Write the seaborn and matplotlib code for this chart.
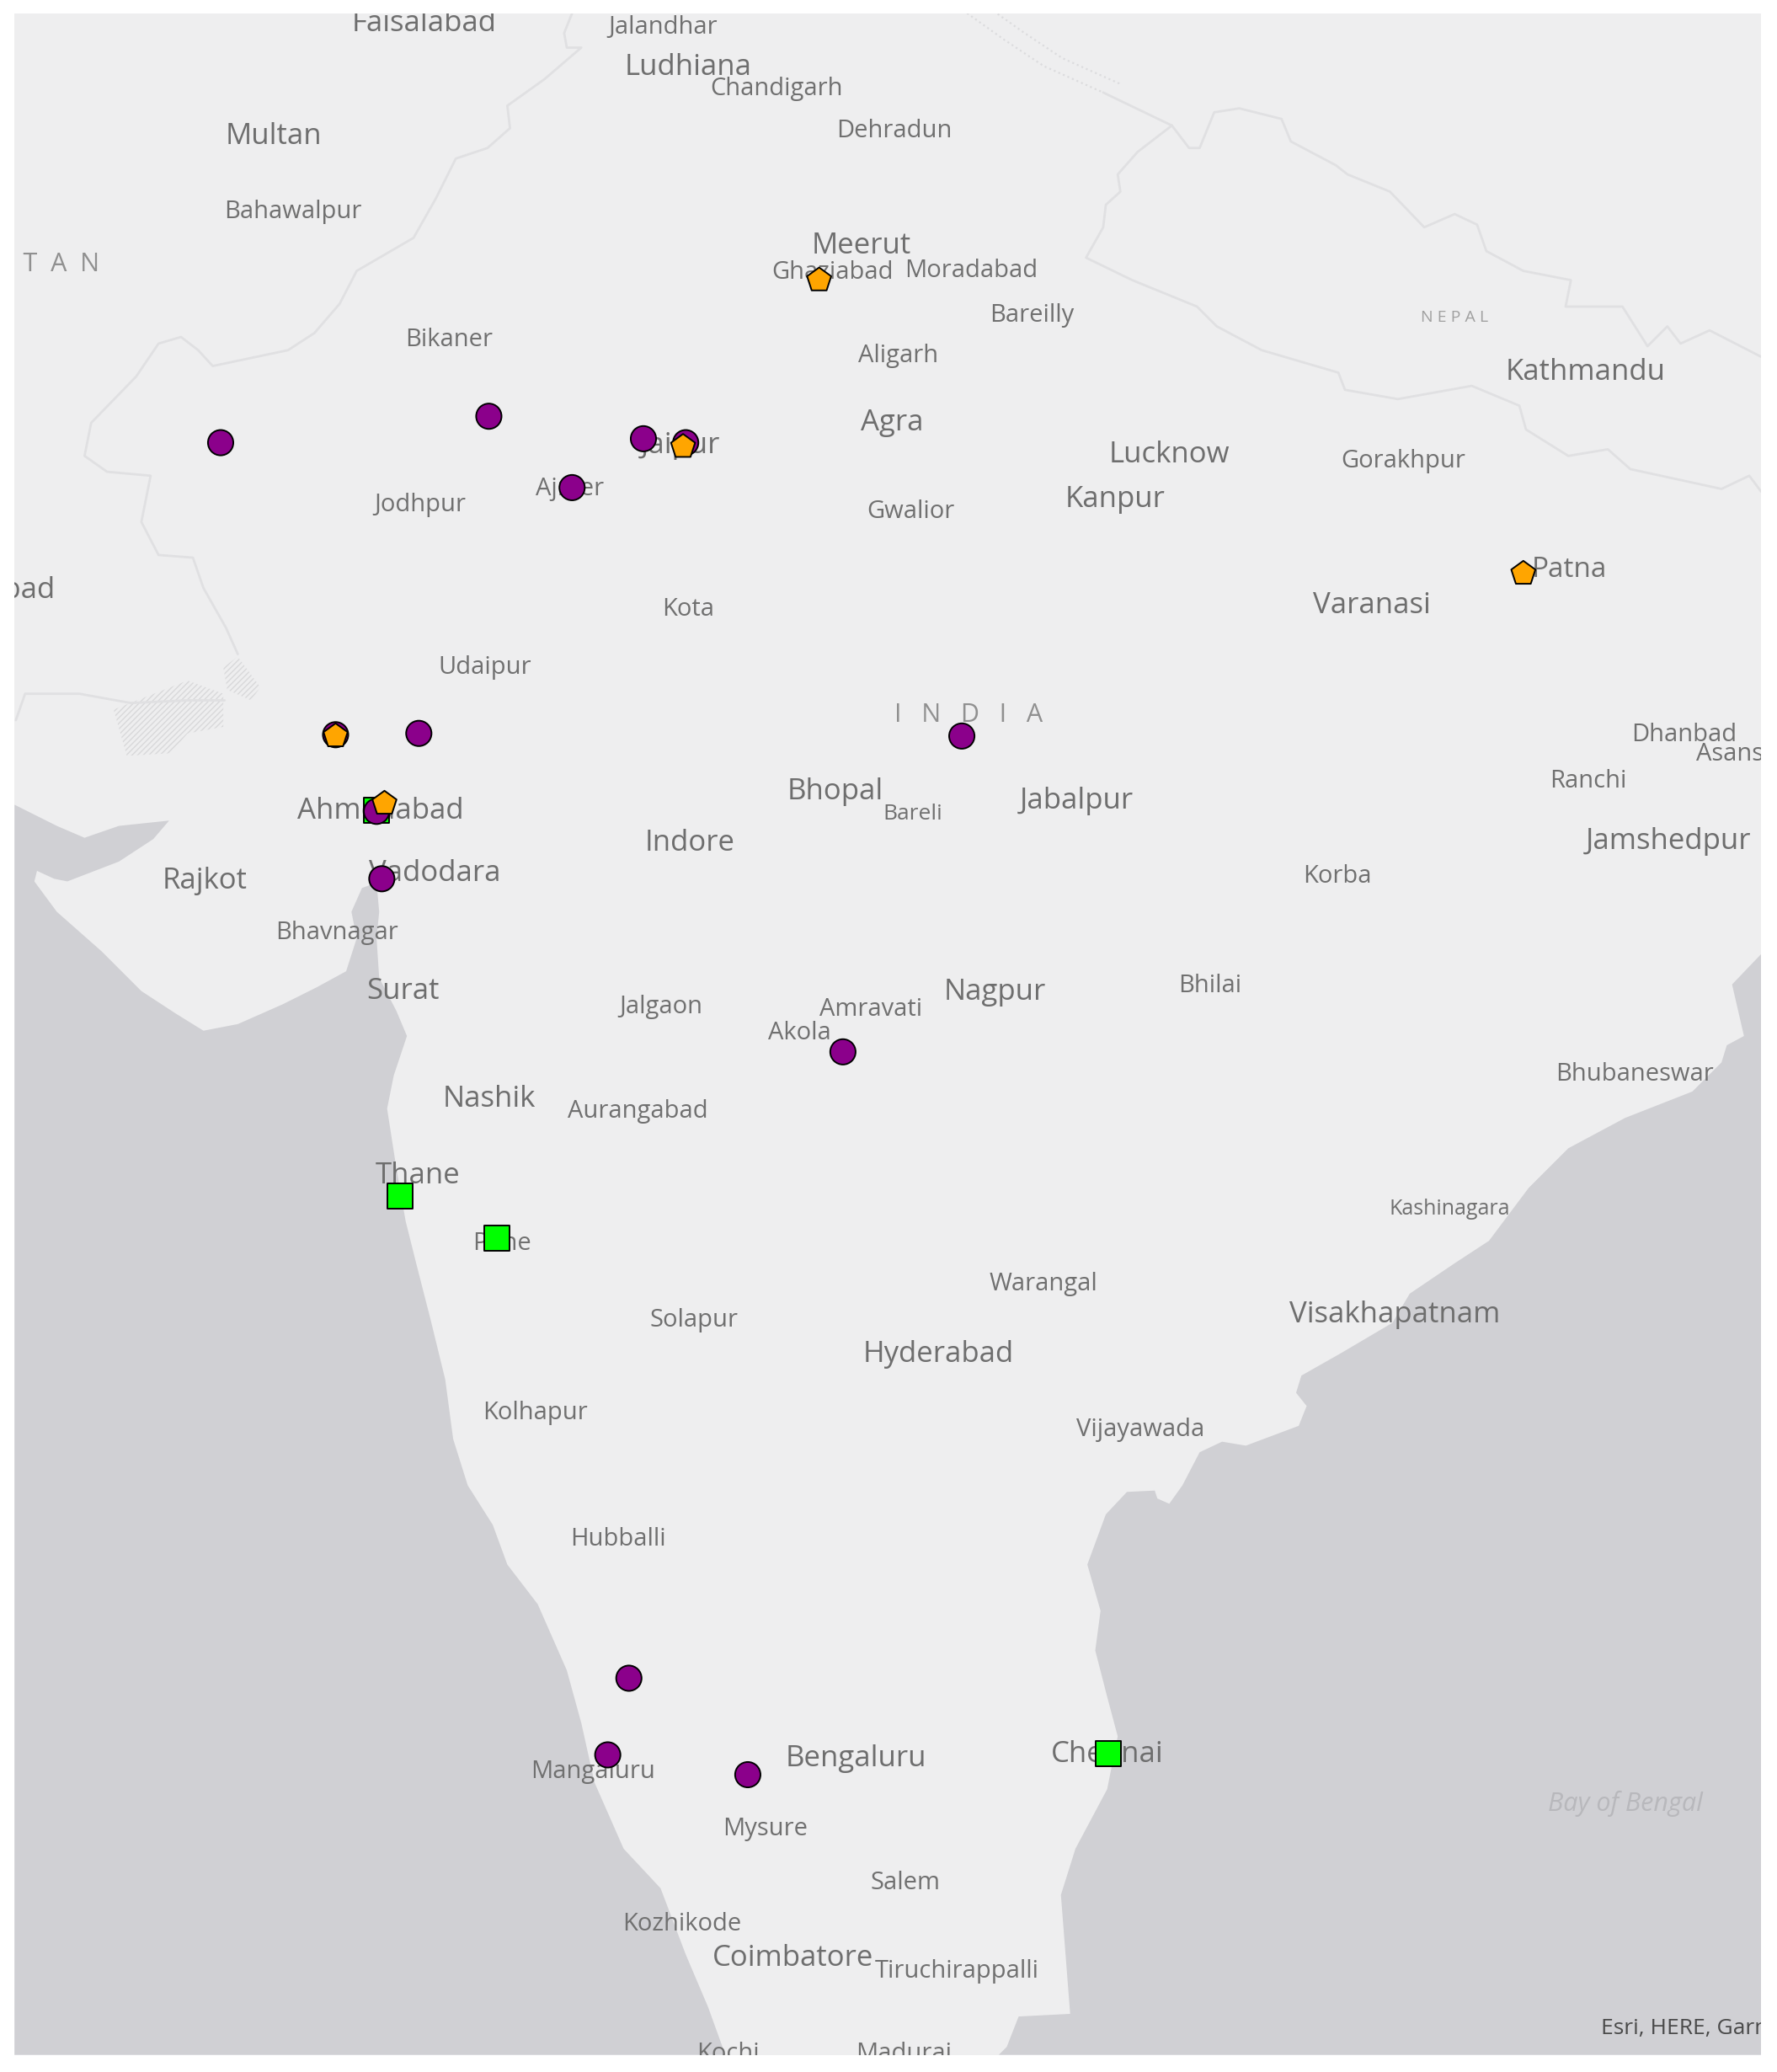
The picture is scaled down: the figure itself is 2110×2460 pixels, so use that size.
import pandas as pd
import seaborn as sns
import matplotlib.pyplot as plt

sns.set_theme(style='white')
plt.rcParams['font.family'] = ['Open Sans', 'DejaVu Sans']

purple_x = [167, 370, 487, 519, 433, 254, 317, 285, 289, 728, 638, 476, 460, 566]
purple_y = [335, 315, 332, 335, 369, 556, 555, 614, 665, 557, 796, 1270, 1328, 1343]
orange_x = [620, 517, 254, 291, 1153]
orange_y = [212, 338, 557, 608, 434]
green_x = [285, 303, 376, 839]
green_y = [613, 905, 937, 1327]

west_sea_x = [11, 43, 64, 90, 128, 116, 90, 51, 41, 28, 26, 43, 77, 107, 133, 154, 180, 214, 240, 262, 270, 266, 274, 285,
              287, 285, 287, 300, 308, 298, 293, 300, 307, 315, 326, 337, 343, 354, 373, 384, 407, 429, 440, 450, 472, 500,
              519, 536, 549, 11]
west_sea_y = [609, 625, 634, 625, 621, 635, 652, 667, 665, 659, 667, 690, 720, 750, 767, 780, 775, 760, 747, 735, 710, 690, 672, 668,
              690, 710, 740, 765, 784, 814, 839, 884, 924, 956, 999, 1044, 1089, 1124, 1154, 1184, 1214, 1264, 1304, 1349, 1399, 1429,
              1479, 1519, 1555, 1555]
east_sea_x = [1333, 1311, 1320, 1307, 1303, 1281, 1230, 1187, 1157, 1127, 1101, 1067, 1054, 1015, 985, 981, 989, 983, 943, 925,
              908, 895, 885, 876, 874, 853, 837, 823, 833, 829, 838, 846, 838, 814, 803, 810, 771, 762, 756, 1333]
east_sea_y = [722, 745, 784, 791, 804, 826, 846, 869, 899, 939, 956, 979, 1001, 1024, 1041, 1054, 1064, 1079, 1094, 1091,
              1099, 1124, 1138, 1134, 1128, 1129, 1146, 1184, 1219, 1249, 1284, 1314, 1354, 1399, 1434, 1524, 1526, 1549, 1555, 1555]

pak_border_x = [433, 427, 429, 440, 412, 384, 386, 369, 345, 330, 313, 270, 257, 238, 218, 161, 150, 137, 120, 103, 69, 64, 81,
                114, 107, 120, 146, 154, 171, 180]
pak_border_y = [10, 25, 36, 36, 60, 80, 97, 112, 120, 150, 180, 205, 230, 252, 265, 277, 265, 255, 260, 285, 320, 345, 357,
                360, 395, 420, 422, 445, 475, 495]
kutch_border_x = [170, 142, 99, 60, 19, 12]
kutch_border_y = [530, 530, 532, 525, 525, 545]
nepal_top_x = [887, 900, 908, 919, 938, 970, 977, 1011, 1020, 1052, 1078, 1101, 1118, 1125, 1153, 1189, 1185, 1228, 1247, 1262,
               1272, 1294, 1333]
nepal_top_y = [95, 112, 112, 85, 82, 90, 107, 125, 132, 145, 172, 162, 170, 190, 205, 212, 232, 232, 262, 247, 260, 250, 270]
nepal_low_x = [887, 861, 846, 848, 837, 835, 822, 857, 906, 921, 955, 1013, 1018, 1058, 1114, 1150, 1155, 1187, 1217, 1234, 1303,
               1324, 1333]
nepal_low_y = [95, 115, 132, 145, 155, 172, 195, 212, 232, 247, 265, 282, 295, 302, 292, 307, 325, 345, 340, 355, 370, 360, 372]
nepal_dots_x = [732, 760, 790, 835]
nepal_dots_y = [10, 30, 50, 70]
nepal_link_x = [835, 887]
nepal_link_y = [70, 95]
rann_x = [86, 142, 169, 169, 142, 129, 96]
rann_y = [537, 515, 525, 550, 555, 570, 572]
rann2_x = [169, 180, 197, 190, 172]
rann2_y = [505, 497, 520, 530, 522]

big_names = ['Faisalabad', 'Ludhiana', 'Multan', 'Meerut', 'Kathmandu', 'Agra', 'Jaipur', 'Lucknow', 'Kanpur', 'Varanasi',
             'Bhopal', 'Jabalpur', 'Ahmedabad', 'Jamshedpur', 'Indore', 'Vadodara', 'Rajkot', 'Surat', 'Nagpur', 'Nashik',
             'Thane', 'Visakhapatnam', 'Hyderabad', 'Chennai', 'Bengaluru', 'Coimbatore']
big_x = [321, 521, 207, 652, 1200, 675, 515, 885, 844, 1038, 632, 815, 288, 1263, 522, 329, 155, 305, 753, 370, 316, 1056, 710,
         838, 648, 600]
big_y = [16, 49, 101, 184, 280, 318, 335, 342, 376, 456, 597, 604, 612, 635, 636, 659, 665, 748, 749, 830, 888, 993, 1023, 1326,
         1329, 1480]
small_names = ['Jalandhar', 'Chandigarh', 'Dehradun', 'Bahawalpur', 'Ghaziabad', 'Moradabad', 'Bareilly', 'Bikaner', 'Aligarh',
               'Gorakhpur', 'Ajmer', 'Jodhpur', 'Gwalior', 'Patna', 'Kota', 'Udaipur', 'Dhanbad', 'Ranchi', 'Bareli', 'Korba',
               'Bhavnagar', 'Bhilai', 'Jalgaon', 'Amravati', 'Akola', 'Bhubaneswar', 'Aurangabad', 'Kashinagara', 'Pune',
               'Warangal', 'Solapur', 'Kolhapur', 'Vijayawada', 'Hubballi', 'Mangaluru', 'Mysure', 'Salem', 'Kozhikode',
               'Tiruchirappalli', 'Kochi', 'Madurai']
small_x = [502, 588, 677, 222, 630, 735, 781, 340, 680, 1062, 431, 318, 689, 1188, 521, 367, 1275, 1202, 691, 1012, 255, 916, 500,
           659, 605, 1237, 483, 1097, 380, 790, 525, 405, 863, 468, 449, 579, 685, 516, 724, 551, 684]
small_y = [19, 65, 97, 158, 204, 203, 237, 255, 267, 347, 368, 380, 385, 429, 459, 503, 554, 589, 614, 661, 704, 744, 760, 762,
           780, 811, 839, 913, 939, 970, 997, 1067, 1080, 1163, 1339, 1382, 1423, 1454, 1490, 1552, 1552]
small_sizes = [21, 21, 21, 21, 21, 21, 21, 21, 21, 21, 21, 21, 21, 24, 21, 21, 21, 21, 19, 21, 21, 21, 21, 21, 21, 21, 21, 18, 21,
               21, 21, 21, 21, 21, 21, 21, 21, 21, 21, 21, 21]

points = pd.concat([
    pd.DataFrame({'x': green_x, 'y': green_y, 'kind': 'green'}),
    pd.DataFrame({'x': purple_x, 'y': purple_y, 'kind': 'purple'}),
    pd.DataFrame({'x': orange_x, 'y': orange_y, 'kind': 'orange'}),
], ignore_index=True)

W, H = 1345, 1568
fig = plt.figure(figsize=(21.1, 24.6), dpi=100, facecolor='white')
ax = fig.add_axes([11 / W, 1 - 1555 / H, 1322 / W, 1545 / H])
ax.set_facecolor('#eeeeef')

ax.fill(west_sea_x, west_sea_y, color='#d0d0d4', lw=0)
ax.fill(east_sea_x, east_sea_y, color='#d0d0d4', lw=0)

border = dict(color='#e0e0e2', lw=2.0, solid_joinstyle='round')
ax.plot(pak_border_x, pak_border_y, **border)
ax.plot(kutch_border_x, kutch_border_y, **border)
ax.plot(nepal_top_x, nepal_top_y, **border)
ax.plot(nepal_low_x, nepal_low_y, **border)
ax.plot(nepal_link_x, nepal_link_y, **border)
ax.plot(nepal_dots_x, nepal_dots_y, color='#dcdcde', lw=1.6, ls=':')
ax.plot([x + 14 for x in nepal_dots_x], [y - 6 for y in nepal_dots_y], color='#dcdcde', lw=1.6, ls=':')
plt.rcParams['hatch.color'] = '#d8d8da'
plt.rcParams['hatch.linewidth'] = 1.0
ax.fill(rann_x, rann_y, facecolor='none', edgecolor='#d8d8da', hatch='/////', lw=0)
ax.fill(rann2_x, rann2_y, facecolor='none', edgecolor='#d8d8da', hatch='/////', lw=0)

for name, x, y in zip(big_names, big_x, big_y):
    ax.text(x, y + 2, name, fontsize=25, color='#6e6e6e', ha='center', va='center', clip_on=True)
for name, x, y, size in zip(small_names, small_x, small_y, small_sizes):
    ax.text(x, y + 2, name, fontsize=size, color='#707070', ha='center', va='center', clip_on=True)

ax.text(42, 447, 'Hyderabad', fontsize=25, color='#6e6e6e', ha='right', va='center', clip_on=True)
ax.text(1284, 571, 'Asansol', fontsize=21, color='#707070', ha='left', va='center', clip_on=True)
ax.text(75, 200, 'P  A  K  I  S  T  A  N', fontsize=22, color='#909090', ha='right', va='center', clip_on=True)
ax.text(733, 541, 'I   N   D   I   A', fontsize=22, color='#909090', ha='center', va='center')
ax.text(1101, 240, 'N E P A L', fontsize=14, color='#a0a0a0', ha='center', va='center')
ax.text(1230, 1365, 'Bay of Bengal', fontsize=22, color='#b8b8bc', style='italic', ha='center', va='center')
ax.text(1212, 1535, 'Esri, HERE, Garmin', fontsize=19, color='#4a4a4a', ha='left', va='center', clip_on=True)

sns.scatterplot(data=points, x='x', y='y', hue='kind', style='kind',
                palette={'green': '#00ff00', 'purple': '#8b008b', 'orange': '#ffa500'},
                markers={'green': 's', 'purple': 'o', 'orange': 'p'},
                s=470, edgecolor='black', linewidth=1.4, legend=False, ax=ax, zorder=5)

ax.set_xlim(11, 1333)
ax.set_ylim(1555, 10)
ax.set_xlabel('')
ax.set_ylabel('')
ax.set_xticks([])
ax.set_yticks([])
for side in ax.spines.values():
    side.set_visible(False)

fig.savefig('out.png', dpi=100)
